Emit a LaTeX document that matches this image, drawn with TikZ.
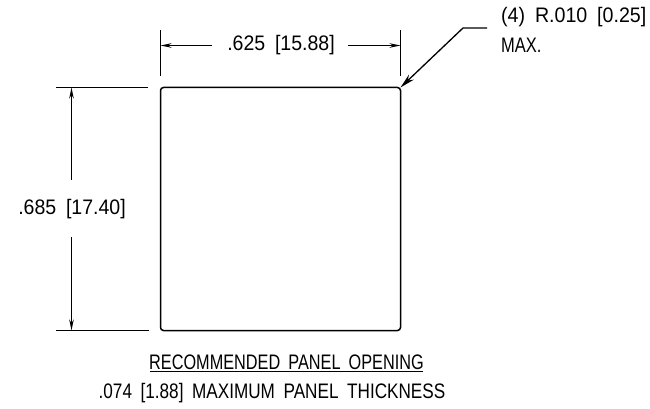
\documentclass[tikz,border=0pt]{standalone}
\usepackage{fontspec}
\setmainfont{Liberation Sans}
\usetikzlibrary{arrows.meta}
\newcommand{\panelfont}{\fontsize{21}{21}\selectfont\spaceskip=0.5em plus 0pt\relax}

\begin{document}
\begin{tikzpicture}[x=1pt, y=-1pt]
        \tikzstyle{every node}=[inner sep=0pt, transform shape]
        \tikzstyle{size label}=[font=\panelfont, xscale=0.93]
        \tikzstyle{note label}=[font=\panelfont, xscale=0.935, anchor=west]
        \tikzstyle{caps label}=[font=\panelfont, xscale=0.775]
        \tikzstyle{outline}=[line width=1.5pt, rounded corners=3pt]
        \tikzstyle{thin line}=[line width=1.3pt]
        \tikzstyle{dim arrow}=[thin line, -{Stealth[length=11pt, width=4.5pt]}]
        \tikzstyle{leader arrow}=[thin line, -{Stealth[length=15pt, width=7pt]}]
        \useasboundingbox (0,0) rectangle (650,409);
        % panel corners
        \coordinate (tl) at (160.5,87.5);
        \coordinate (tr) at (400.5,87.5);
        \coordinate (bl) at (160.5,330.5);
        \coordinate (br) at (400.5,330.5);
        \draw [outline] (tl) -- (tr) -- (br) -- (bl) -- cycle;
        % width dimension
        \coordinate (wl1) at (160.5,30); \coordinate (wl2) at (160.5,76);
        \coordinate (wr1) at (400.5,30); \coordinate (wr2) at (400.5,76);
        \coordinate (wl) at (160.5,45.5); \coordinate (wr) at (400.5,45.5);
        \coordinate (wa) at (212,45.5); \coordinate (wb) at (348,45.5);
        \node (width) [size label] at (281,45) {.625 [15.88]};
        \draw [thin line] (wl1) -- (wl2);
        \draw [thin line] (wr1) -- (wr2);
        \draw [dim arrow] (wa) -- (wl);
        \draw [dim arrow] (wb) -- (wr);
        % height dimension
        \coordinate (ht1) at (56,87.5); \coordinate (ht2) at (148,87.5);
        \coordinate (hb1) at (56,330.5); \coordinate (hb2) at (149,330.5);
        \coordinate (ht) at (71.5,87.5); \coordinate (hb) at (71.5,330.5);
        \coordinate (ha) at (71.5,180); \coordinate (hc) at (71.5,237);
        \node (height) [size label] at (72,209) {.685 [17.40]};
        \draw [thin line] (ht1) -- (ht2);
        \draw [thin line] (hb1) -- (hb2);
        \draw [dim arrow] (ha) -- (ht);
        \draw [dim arrow] (hc) -- (hb);
        % corner radius note
        \coordinate (knee) at (463,28);
        \coordinate (tail) at (487,28);
        \node (radius) [note label] at (501,17) {(4) R.010 [0.25]};
        \node (max) [note label, xscale=0.84] at (501,45) {MAX.};
        \draw [leader arrow] (tail) -- (knee) -- (tr);
        % captions
        \node (title) [caps label] at (286.5,362) {RECOMMENDED PANEL OPENING};
        \node (thick) [caps label, xscale=1.054] at (272,393) {.074 [1.88] MAXIMUM PANEL THICKNESS};
        \coordinate (ula) at (150,371.5); \coordinate (ulb) at (423,371.5);
        \draw [thin line] (ula) -- (ulb);
\end{tikzpicture}
\end{document}
